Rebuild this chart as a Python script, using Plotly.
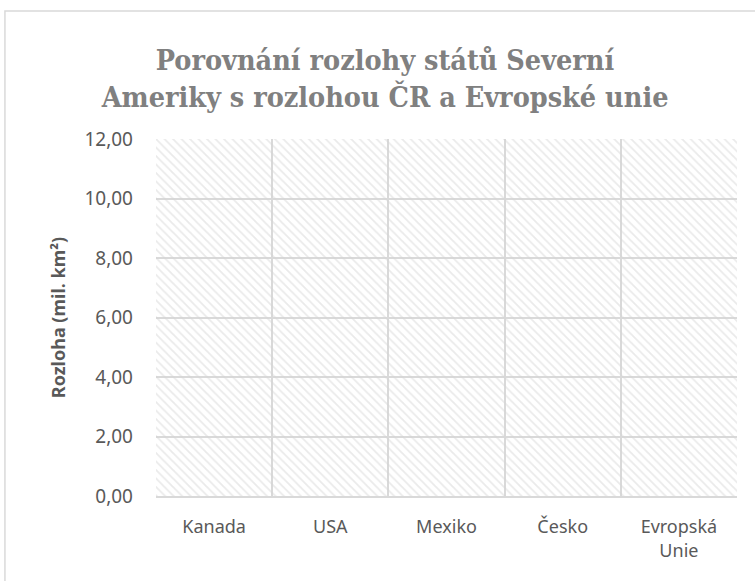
import plotly.graph_objects as go

# data (no visible bars)
categories = ["Kanada", "USA", "Mexiko", "Česko", "Evropská<br>Unie"]
values = [0, 0, 0, 0, 0]
y_ticks = [0, 2, 4, 6, 8, 10, 12]

GRID = "#d9d9d9"
TEXT = "#595959"

fig = go.Figure()

# hatched plot background, drawn on an overlay axis spanning the plot area
fig.add_trace(go.Scatter(
    x=[0, 1, 1, 0, 0], y=[0, 0, 1, 1, 0],
    xaxis="x2", yaxis="y2",
    mode="lines", line=dict(width=0),
    fill="toself", fillcolor="rgba(0,0,0,0)",
    fillpattern=dict(shape="\\", fgcolor="#d6d6d6", bgcolor="rgba(0,0,0,0)",
                     size=6, solidity=0.3),
    hoverinfo="skip", showlegend=False,
))

fig.add_trace(go.Bar(
    x=categories, y=values,
    marker=dict(color="#4472c4", line=dict(width=0)),
    showlegend=False,
))

fig.update_layout(
    width=755, height=581,
    margin=dict(l=156, r=18, t=139, b=85),
    paper_bgcolor="white", plot_bgcolor="white",
    separators=", ",
    font=dict(family="Noto Sans", size=18, color=TEXT),
    title=dict(
        text="<b>Porovnání rozlohy států Severní<br>Ameriky s rozlohou ČR a Evropské unie</b>",
        font=dict(family="DejaVu Serif Condensed, Liberation Serif", size=28.5, color="#808080"),
        x=0.51, xanchor="center", xref="container",
        y=0.88, yanchor="top", yref="container",
    ),
    xaxis=dict(
        type="category", tickson="boundaries",
        showgrid=True, gridcolor=GRID, gridwidth=1.5,
        showline=True, linecolor=GRID, linewidth=1.5,
        ticks="", ticklabelstandoff=14,
        tickfont=dict(size=18, color=TEXT),
        zeroline=False,
    ),
    yaxis=dict(
        range=[0, 12], tickvals=y_ticks, tickformat=".2f",
        showgrid=True, gridcolor=GRID, gridwidth=1.5,
        showline=False, zeroline=False, ticks="",
        ticklabelstandoff=22,
        tickfont=dict(size=19, color=TEXT),
        title=dict(text="<b>Rozloha (mil. km²)</b>", font=dict(size=18, color=TEXT),
                   standoff=14),
    ),
    xaxis2=dict(overlaying="x", range=[0, 1], visible=False, fixedrange=True),
    yaxis2=dict(overlaying="y", range=[0, 1], visible=False, fixedrange=True),
    shapes=[dict(
        type="rect", xref="paper", yref="paper",
        x0=-0.26, x1=1.2, y0=-0.5, y1=1.3585,
        line=dict(color=GRID, width=1.5), fillcolor="rgba(0,0,0,0)", layer="below",
    )],
)

fig.write_html("out.html", config={"displayModeBar": False},
               post_script="document.body.style.margin='0';")
